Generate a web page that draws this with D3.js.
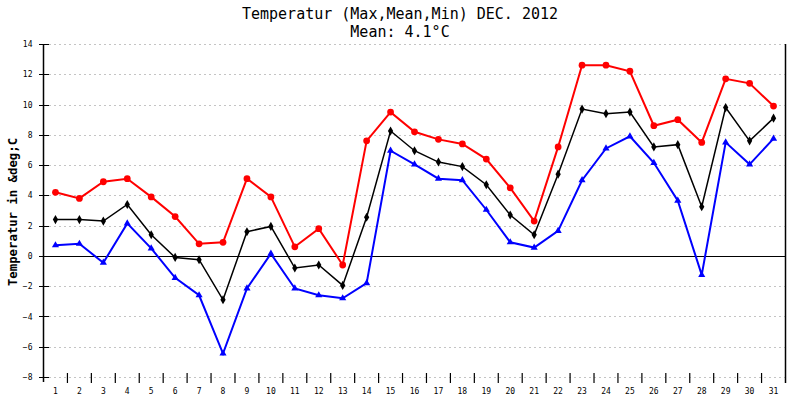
<!DOCTYPE html>
<html><head><meta charset="utf-8">
<script src="https://cdn.jsdelivr.net/npm/d3@7"></script>
<style>body{margin:0;background:#fff}svg{display:block}</style>
</head><body>
<script>
const days = d3.range(1, 32);
const maxT  = [4.2,3.8,4.9,5.1,3.9,2.6,0.8,0.9,5.1,3.9,0.6,1.8,-0.6,7.6,9.5,8.2,7.7,7.4,6.4,4.5,2.3,7.2,12.6,12.6,12.2,8.6,9.0,7.5,11.7,11.4,9.9];
const meanT = [2.4,2.4,2.3,3.4,1.4,-0.1,-0.25,-2.9,1.6,1.95,-0.8,-0.6,-1.95,2.55,8.25,6.95,6.2,5.9,4.7,2.7,1.4,5.4,9.7,9.4,9.5,7.2,7.35,3.25,9.8,7.6,9.1];
const minT  = [0.7,0.8,-0.45,2.15,0.5,-1.45,-2.6,-6.45,-2.15,0.15,-2.15,-2.6,-2.8,-1.8,6.95,6.05,5.1,5.0,3.05,0.9,0.55,1.65,5.0,7.1,7.9,6.15,3.65,-1.25,7.5,6.05,7.75];
const yTicks = [-8,-6,-4,-2,0,2,4,6,8,10,12,14];
const title1 = "Temperatur (Max,Mean,Min) DEC. 2012";
const title2 = "Mean: 4.1°C";
const yLabel = "Temperatur in &deg;C";

const W = 800, H = 400;
const L = 43.5, R = 785.5, T = 44, B = 377;
const svg = d3.select("body").append("svg").attr("width", W).attr("height", H);
const font = "'DejaVu Sans Mono', monospace";

const x = d3.scaleBand().domain(days).range([L, R]);
const y = d3.scaleLinear().domain([-8, 14]).range([B, T]);
const cx = d => x(d) + x.bandwidth() / 2;

// gridlines
svg.append("g").selectAll("line").data(yTicks.filter(v => v !== 0)).join("line")
  .attr("x1", L + 5).attr("x2", R).attr("y1", d => y(d) + 0.5).attr("y2", d => y(d) + 0.5)
  .attr("stroke", "#c4c4c4").attr("stroke-width", 1).attr("stroke-dasharray", "2,3")
  .attr("shape-rendering", "crispEdges");
// zero line
svg.append("line").attr("x1", L).attr("x2", R).attr("y1", y(0) + 0.5).attr("y2", y(0) + 0.5)
  .attr("stroke", "#000").attr("stroke-width", 1).attr("shape-rendering", "crispEdges");

// y axis
const yAxis = d3.axisLeft(y).tickValues(yTicks).tickSize(0).tickPadding(11);
const yg = svg.append("g").attr("transform", `translate(${L},0)`).call(yAxis);
yg.select(".domain").remove();
yg.selectAll("text").attr("font-family", font).attr("font-size", 8).attr("fill", "#000");
svg.append("line").attr("x1", L).attr("x2", L).attr("y1", T).attr("y2", B + 5)
  .attr("stroke", "#000").attr("stroke-width", 1.5);
svg.append("g").selectAll("line").data(yTicks).join("line")
  .attr("x1", L - 5).attr("x2", L + 5).attr("y1", d => y(d) + 0.5).attr("y2", d => y(d) + 0.5)
  .attr("stroke", "#000").attr("stroke-width", 1).attr("shape-rendering", "crispEdges");
// right axis
svg.append("line").attr("x1", R).attr("x2", R).attr("y1", T).attr("y2", B + 6)
  .attr("stroke", "#000").attr("stroke-width", 1.5);

// x axis ticks between days
svg.append("g").selectAll("line").data(days.slice(1)).join("line")
  .attr("x1", d => x(d)).attr("x2", d => x(d)).attr("y1", B - 4).attr("y2", B + 6)
  .attr("stroke", "#000").attr("stroke-width", 1.2);
const xAxis = d3.axisBottom(x).tickSize(0).tickPadding(11);
const xg = svg.append("g").attr("transform", `translate(0,${B})`).call(xAxis);
xg.select(".domain").remove();
xg.selectAll("text").attr("font-family", font).attr("font-size", 8).attr("fill", "#000");

// series
const series = [
  {vals: minT, color: "#0000ff", w: 2, shape: d3.symbolTriangle, size: 22},
  {vals: maxT, color: "#ff0000", w: 2, shape: d3.symbolCircle, size: 36},
  {vals: meanT, color: "#000000", w: 1.5, shape: d3.symbolDiamond, size: 24}
];
const line = d3.line().x((d, i) => cx(days[i])).y(d => y(d));
series.forEach(s => {
  svg.append("path").datum(s.vals).attr("d", line).attr("fill", "none")
    .attr("stroke", s.color).attr("stroke-width", s.w);
  svg.append("g").selectAll("path").data(s.vals).join("path")
    .attr("transform", (d, i) => `translate(${cx(days[i])},${y(d)})`)
    .attr("d", d3.symbol().type(s.shape).size(s.size)).attr("fill", s.color);
});

// titles
svg.append("text").attr("x", 400).attr("y", 19).attr("text-anchor", "middle")
  .attr("font-family", font).attr("font-size", 15).text(title1);
svg.append("text").attr("x", 400).attr("y", 37).attr("text-anchor", "middle")
  .attr("font-family", font).attr("font-size", 15).text(title2);
svg.append("text").attr("transform", `translate(16.5,212) rotate(-90)`)
  .attr("text-anchor", "middle").attr("font-family", font).attr("font-weight", "bold")
  .attr("font-size", 12.3).text(yLabel);
</script>
</body></html>
